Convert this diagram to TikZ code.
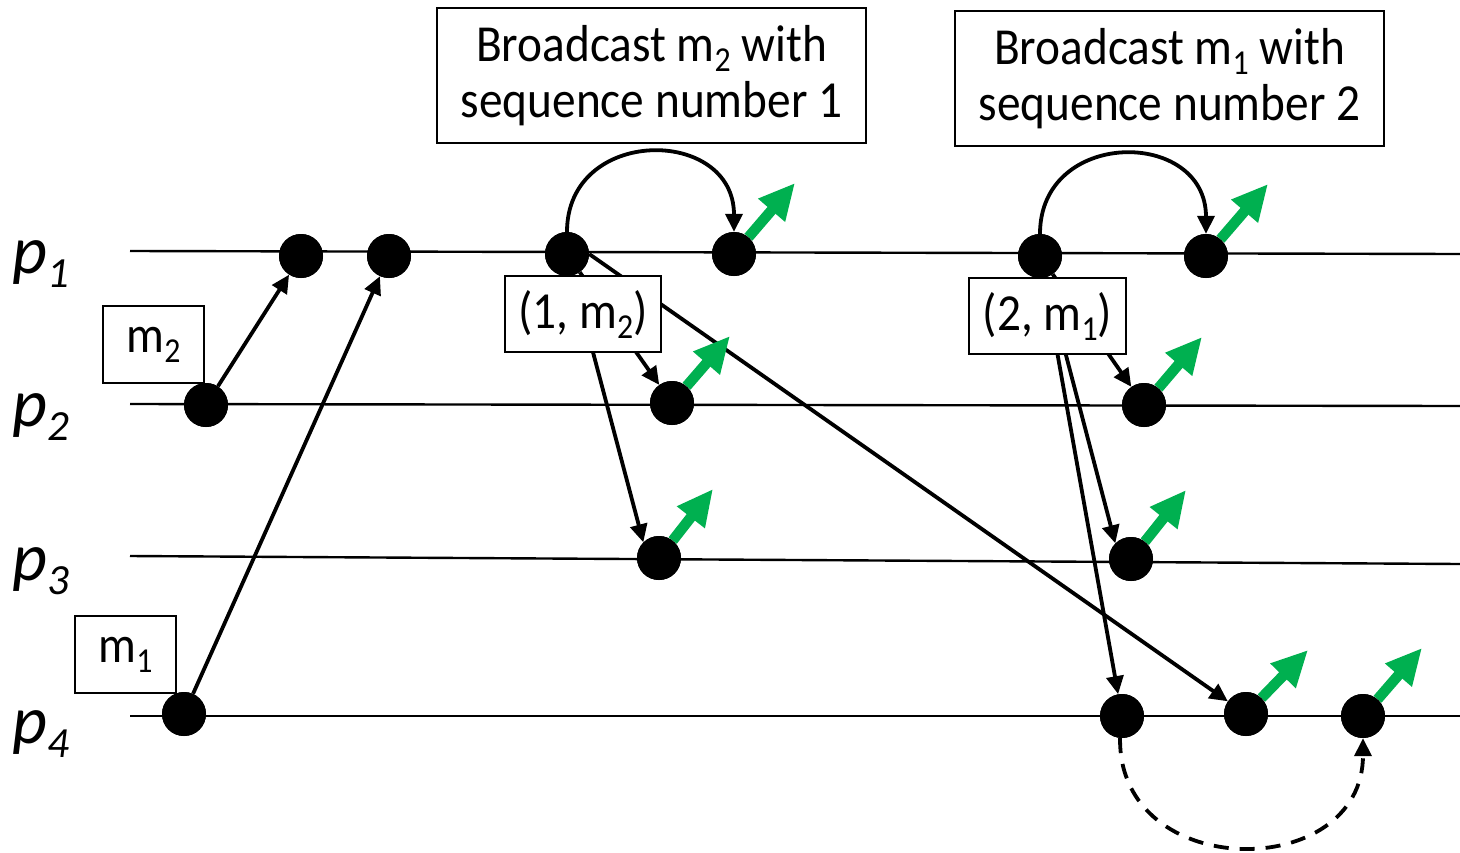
\documentclass[tikz,border=0pt]{standalone}
\usepackage{fontspec}
\setmainfont{Carlito}
\newfontfamily\boxfont{Carlito}[FakeStretch=0.91]
\usetikzlibrary{arrows.meta}
\definecolor{ogreen}{RGB}{0,176,80}
\newcommand\lsub[1]{\raisebox{-10pt}{\fontsize{35}{35}\selectfont #1}}
\newcommand\pname[1]{{\fontsize{68}{70}\selectfont\itshape p\raisebox{-14pt}{\fontsize{43}{43}\selectfont #1}}}
\begin{document}
\begin{tikzpicture}[x=1pt,y=-1pt,
  dot/.style={circle,fill=black,inner sep=0pt,minimum size=44pt},
  lbl/.style={draw,line width=1.8pt,fill=white,font=\boxfont\fontsize{52}{56}\selectfont,align=center,inner sep=0pt},
  msg/.style={line width=3.8pt,-{Triangle[length=18pt,width=17pt]}},
  dmsg/.style={msg,dash pattern=on 15pt off 11pt},
  deliver/.style={ogreen,line width=10.5pt,-{Triangle[length=36pt,width=33pt]}},
  timeline/.style={line width=2.4pt},
  pl/.style={anchor=base west,inner sep=0pt}]
\useasboundingbox (0,0) rectangle (1460,852);
% timelines
\coordinate (L1) at (130,251); \coordinate (R1) at (1460,254);
\coordinate (L2) at (130,404); \coordinate (R2) at (1460,406);
\coordinate (L3) at (130,556); \coordinate (R3) at (1460,564);
\coordinate (L4) at (130,716); \coordinate (R4) at (1460,716);
\draw[timeline] (L1) -- (R1);
\draw[timeline] (L2) -- (R2);
\draw[timeline] (L3) -- (R3);
\draw[timeline] (L4) -- (R4);
% process labels
\node[pl] (P1) at (12,273) {\pname{1}};
\node[pl] (P2) at (12,426) {\pname{2}};
\node[pl] (P3) at (12,580) {\pname{3}};
\node[pl] (P4) at (12,743) {\pname{4}};
% dots (placed as nodes)
\node[dot] (a1) at (301,256) {};
\node[dot] (a2) at (389,256) {};
\node[dot] (a3) at (567,254) {};
\node[dot] (a4) at (734,254) {};
\node[dot] (a5) at (1040,256) {};
\node[dot] (a6) at (1206,256) {};
\node[dot] (b1) at (206,405) {};
\node[dot] (b2) at (672,403) {};
\node[dot] (b3) at (1144,405) {};
\node[dot] (c1) at (659,558) {};
\node[dot] (c2) at (1131,559) {};
\node[dot] (d1) at (184,714) {};
\node[dot] (d2) at (1122,716) {};
\node[dot] (d3) at (1246,714) {};
\node[dot] (d4) at (1363,716) {};
% messages
\draw[msg] (b1) -- (a1);
\draw[msg] (d1) -- (a2);
\draw[msg] (a3) -- (b2);
\draw[msg] (a3) -- (c1.north west);
\draw[msg] (a3.east) -- (d3);
\draw[msg] (a5) -- (b3);
\draw[msg] (a5) -- (c2.north west);
\draw[msg] (a5) -- (d2);
\draw[msg] (a3.north) .. controls (567,126) and (734,126) .. (a4.north);
\draw[msg] (a5.north) .. controls (1040,128) and (1206,128) .. (a6.north);
\draw[dmsg] (d2.-95) .. controls (1118,883) and (1363,883) .. (d4.south);
% boxes
\node[lbl,minimum width=429pt,minimum height=135pt] (B1) at (651.5,75.5) {Broadcast m\lsub{2} with\\sequence number 1};
\node[lbl,minimum width=429pt,minimum height=135pt] (B2) at (1169.5,78.5) {Broadcast m\lsub{1} with\\sequence number 2};
\node[lbl,minimum width=156pt,minimum height=76pt] (S1) at (583,314) {(1, m\lsub{2})};
\node[lbl,minimum width=157pt,minimum height=76pt] (S2) at (1047.5,316) {(2, m\lsub{1})};
\node[lbl,minimum width=101pt,minimum height=77pt] (M2) at (153.5,344.5) {m\lsub{2}};
\node[lbl,minimum width=101pt,minimum height=77pt] (M1) at (125.5,654.5) {m\lsub{1}};
% deliveries
\coordinate (g1) at (795,183);
\coordinate (g2) at (1268,184);
\coordinate (g3) at (730,336);
\coordinate (g4) at (1202,337);
\coordinate (g5) at (713,489);
\coordinate (g6) at (1186,490);
\coordinate (g7) at (1308,650);
\coordinate (g8) at (1422,648);
\draw[deliver] (a4) -- (g1);
\draw[deliver] (a6) -- (g2);
\draw[deliver] (b2) -- (g3);
\draw[deliver] (b3) -- (g4);
\draw[deliver] (c1) -- (g5);
\draw[deliver] (c2) -- (g6);
\draw[deliver] (d3) -- (g7);
\draw[deliver] (d4) -- (g8);
% redraw dots on top
\foreach \n in {a1,a2,a3,a4,a5,a6,b1,b2,b3,c1,c2,d1,d2,d3,d4}{\fill (\n) circle[radius=22pt];}
\end{tikzpicture}
\end{document}
